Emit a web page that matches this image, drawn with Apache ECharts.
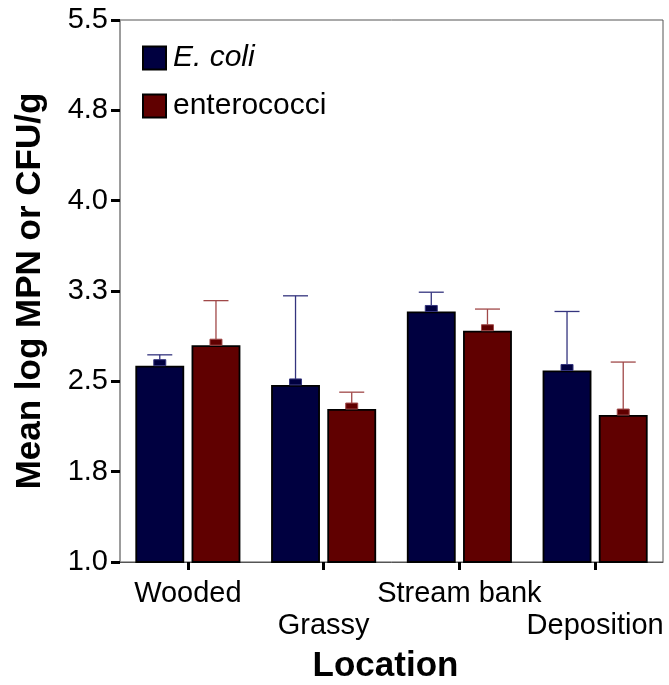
<!DOCTYPE html>
<html>
<head>
<meta charset="utf-8">
<script src="https://cdn.jsdelivr.net/npm/echarts@6/dist/echarts.min.js"></script>
<style>
html,body{margin:0;padding:0;background:#fff;}
#c{width:669px;height:685px;}
</style>
</head>
<body>
<div id="c"></div>
<script>
const categories = ['Wooded', 'Grassy', 'Stream bank', 'Deposition'];
const seriesNames = ['E. coli', 'enterococci'];
const ecoliMean = [2.63, 2.47, 3.08, 2.59];
const ecoliErr = [0.09, 0.74, 0.16, 0.49];
const enteroMean = [2.80, 2.27, 2.92, 2.22];
const enteroErr = [0.37, 0.14, 0.18, 0.44];
const yTickValues = [1.0, 1.75, 2.5, 3.25, 4.0, 4.75, 5.5];
const yTickLabels = ['1.0', '1.8', '2.5', '3.3', '4.0', '4.8', '5.5'];

const barColors = ['#000040', '#600000'];
const errColors = ['#34347e', '#a04848'];
const FONT = 'Liberation Sans, Arial, sans-serif';
const BAR_FRAC = 0.36, GAP_FRAC = 0.15;

const errData = [];
ecoliMean.forEach((m, i) => errData.push([i, m, ecoliErr[i], 0]));
enteroMean.forEach((m, i) => errData.push([i, m, enteroErr[i], 1]));

const chart = echarts.init(document.getElementById('c'), null, {renderer: 'canvas'});
chart.setOption({
  animation: false,
  backgroundColor: '#fff',
  grid: {left: 120, right: 6, top: 20, bottom: 123, containLabel: false, outerBoundsMode: 'none',
    show: true, borderColor: '#555', borderWidth: 1, backgroundColor: 'transparent'},
  legend: {
    data: seriesNames,
    orient: 'vertical',
    left: 142, top: 43,
    padding: 0,
    itemWidth: 23, itemHeight: 23, itemGap: 18,
    icon: 'rect',
    formatter: n => n === 'E. coli' ? '{i|E. coli}' : n,
    textStyle: {fontSize: 30, fontFamily: FONT, color: '#000', padding: [0, 0, 0, 2],
      rich: {i: {fontSize: 30, fontFamily: FONT, fontStyle: 'italic', color: '#000'}}}
  },
  xAxis: {
    type: 'category',
    data: categories,
    name: 'Location',
    nameLocation: 'middle',
    nameGap: 87,
    nameTextStyle: {fontSize: 35, fontWeight: 'bold', fontFamily: FONT, color: '#000', padding: [0, 12, 0, 0]},
    axisLine: {show: true, lineStyle: {color: '#555', width: 1}},
    axisTick: {show: true, alignWithLabel: true, length: 8, lineStyle: {color: '#000', width: 3}},
    axisLabel: {
      interval: 0, margin: 16, fontSize: 29, fontFamily: FONT, color: '#000', lineHeight: 32,
      formatter: (v, i) => (i % 2 === 1 ? '\n' + v : v)
    },
    splitLine: {show: false}
  },
  yAxis: {
    type: 'value',
    min: 1, max: 5.5, interval: 0.75,
    name: 'Mean log MPN or CFU/g',
    nameLocation: 'middle',
    nameGap: 72,
    nameTextStyle: {fontSize: 35, fontWeight: 'bold', fontFamily: FONT, color: '#000'},
    axisLine: {show: true, lineStyle: {color: '#999', width: 1.5}},
    axisTick: {show: true, length: 9, lineStyle: {color: '#000', width: 3}},
    axisLabel: {
      margin: 12, fontSize: 29, fontFamily: FONT, color: '#000',
      formatter: v => {
        const k = yTickValues.findIndex(t => Math.abs(t - v) < 1e-6);
        return k >= 0 ? yTickLabels[k] : '';
      }
    },
    splitLine: {show: false}
  },
  series: [
    {
      name: seriesNames[0], type: 'bar', data: ecoliMean,
      barWidth: (BAR_FRAC * 100) + '%', barGap: (GAP_FRAC * 100) + '%',
      itemStyle: {color: barColors[0], borderColor: '#000', borderWidth: 1.8}
    },
    {
      name: seriesNames[1], type: 'bar', data: enteroMean,
      barWidth: (BAR_FRAC * 100) + '%', barGap: (GAP_FRAC * 100) + '%',
      itemStyle: {color: barColors[1], borderColor: '#000', borderWidth: 1.8}
    },
    {
      type: 'custom',
      data: errData,
      z: 10,
      renderItem: (params, api) => {
        const idx = api.value(0), mean = api.value(1), err = api.value(2), s = api.value(3);
        const band = api.size([1, 0])[0];
        const bw = band * BAR_FRAC, gap = bw * GAP_FRAC;
        const off = (bw + gap) / 2 * (s === 0 ? -1 : 1);
        const base = api.coord([idx, mean]);
        const top = api.coord([idx, mean + err]);
        const x = base[0] + off;
        return {
          type: 'group',
          children: [
            {type: 'line', shape: {x1: x, y1: base[1] - 6, x2: x, y2: top[1]}, style: {stroke: errColors[s], lineWidth: 1.3}},
            {type: 'line', shape: {x1: x - 12.5, y1: top[1], x2: x + 12.5, y2: top[1]}, style: {stroke: errColors[s], lineWidth: 1.3}},
            {type: 'rect', shape: {x: x - 6, y: base[1] - 6, width: 12, height: 6}, style: {fill: barColors[s], stroke: errColors[s], lineWidth: 1}}
          ]
        };
      }
    }
  ]
});
</script>
</body>
</html>
